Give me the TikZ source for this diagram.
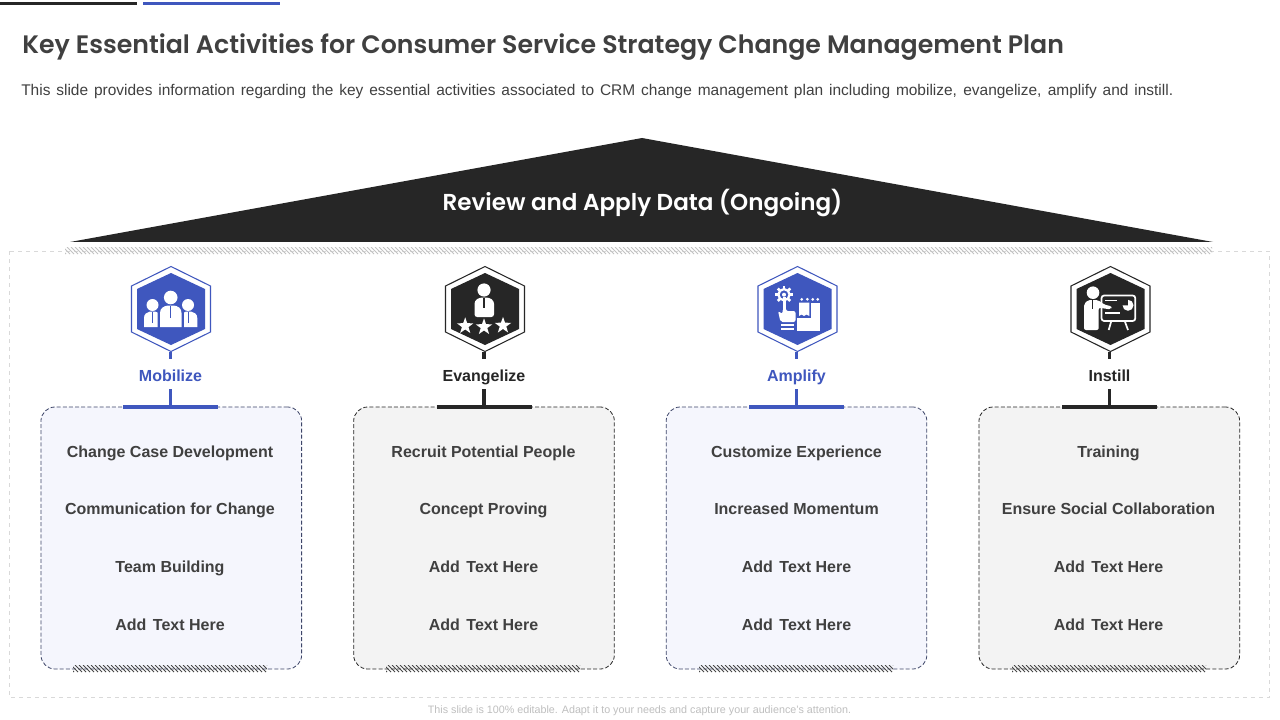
\documentclass[tikz,border=0pt]{standalone}
\usepackage{fontspec}
\setmainfont{Liberation Sans}
\newfontfamily\titlefont{Poppins SemiBold}
\usetikzlibrary{shapes.geometric,calc}
\definecolor{brandblue}{HTML}{3F57BE}
\definecolor{brandblack}{HTML}{262626}
\definecolor{bluecard}{HTML}{F5F6FD}
\definecolor{greycard}{HTML}{F3F3F3}
\definecolor{bodytext}{HTML}{404040}
\definecolor{slatedash}{HTML}{3E4669}
\newcommand{\hatchband}[5]{% x1,y1,x2,y2,colour
  \begin{scope}
    \clip (#1,#2) rectangle (#3,#4);
    \pgfmathsetmacro{\hstart}{#1-10}
    \pgfmathsetmacro{\hnext}{#1-6}
    \foreach \hx in {\hstart,\hnext,...,#3}
      \draw[#5,line width=0.75pt] (\hx,#2) -- (\hx+#4-#2,#4);
  \end{scope}}
\newcommand{\column}[8]{% id, connector x, hex x, colour, card fill, label, card border, card x
  \node[hexbox] (hex#1) at (#3,309) {};
  \draw[#4,line width=0.8pt,fill=white]
    ($(hex#1.center)+(0,-42.5)$) -- ++(39.5,19.5) -- ++(0,46) -- ++(-39.5,19.5) -- ++(-39.5,-19.5) -- ++(0,-46) -- cycle;
  \fill[#4]
    ($(hex#1.center)+(0,-36)$) -- ++(34,16) -- ++(0,40) -- ++(-34,16) -- ++(-34,-16) -- ++(0,-40) -- cycle;
  \node[cardbox,fill=#5,draw=#7] (card#1) at (#8,538) {};
  \node[collabel,text=#4] (label#1) at (#2,381) {#6};
  \coordinate (bar#1) at (#2,407);
  \draw[#4,line width=2.6pt] ($(bar#1)+(-47.5,0)$) -- ($(bar#1)+(47.5,0)$);
  \coordinate (hexfoot#1) at (#2,351.5);
  \draw[#4,line width=2.6pt] (hexfoot#1) -- (#2,359);
  \draw[#4,line width=2.6pt] (#2,389) -- (bar#1);
}
\newcommand{\items}[6]{%
  \node[itemtext] (item#1a) at (#2,457) {#3};
  \node[itemtext] (item#1b) at (#2,514) {#4};
  \node[itemtext] (item#1c) at (#2,572) {#5};
  \node[itemtext] (item#1d) at (#2,630) {#6};
}
\newcommand{\addtext}{Add\hspace{1.6pt}\ Text Here}
\begin{document}
\begin{tikzpicture}[x=0.75pt,y=-0.75pt,
  hexbox/.style={inner sep=0,outer sep=0,minimum width=59.25pt,minimum height=64.5pt},
  cardbox/.style={rounded corners=10.5pt,dash pattern=on 3pt off 1.6pt,line width=0.6pt,inner sep=0,minimum width=195.5pt,minimum height=196.5pt},
  collabel/.style={font=\bfseries\fontsize{12}{14}\selectfont,inner sep=0,anchor=base},
  itemtext/.style={font=\bfseries\fontsize{12}{15}\selectfont,text=bodytext,inner sep=0,anchor=base},
  starmark/.style={star,star points=5,star point ratio=2.5,fill=white,inner sep=0,minimum size=13pt}]
\useasboundingbox (0,0) rectangle (1280,720);
\fill[white] (0,0) rectangle (1280,720);
% top rules
\fill[brandblack] (0,1.8) rectangle (137,4.8);
\fill[brandblue] (143,1.8) rectangle (280,4.8);
% heading
\node[anchor=base west,inner sep=0,text=bodytext,font=\titlefont\fontsize{18.93}{22}\selectfont] (title) at (22,54)
  {Key Essential Activities for Consumer Service Strategy Change Management Plan};
\node[anchor=base west,inner sep=0,text=bodytext,font=\fontsize{11.6}{14}\selectfont] (subtitle) at (21,96)
  {\makebox[864pt][s]{This slide provides information regarding the key essential activities associated to CRM change management plan including mobilize, evangelize, amplify and instill.}};
% frame
\draw[black!15,dashed,line width=0.6pt,fill=white] (9.5,251) rectangle (1269,697.5);
\hatchband{65}{247}{1212}{254}{black!24}
% roof
\fill[brandblack] (70,242) -- (642,138) -- (1213,242) -- cycle;
\node[text=white,inner sep=0,anchor=base,font=\titlefont\fontsize{17.3}{22}\selectfont] (roof) at (642.5,210.5) {Review and Apply Data (Ongoing)};
% columns
\column{A}{170.5}{171}{brandblue}{bluecard}{Mobilize}{slatedash}{171.3}
\column{B}{484}{485}{brandblack}{greycard}{Evangelize}{brandblack}{484}
\column{C}{796.5}{797.5}{brandblue}{bluecard}{Amplify}{slatedash}{796.5}
\column{D}{1109.5}{1110.5}{brandblack}{greycard}{Instill}{brandblack}{1109.3}
\hatchband{73}{665}{267}{672}{brandblack!85}
\hatchband{386}{665}{580}{672}{brandblack!85}
\hatchband{699}{665}{893}{672}{brandblack!85}
\hatchband{1012}{665}{1206}{672}{brandblack!85}
\items{A}{170}{Change Case Development}{Communication for Change}{Team Building}{\addtext}
\items{B}{483.5}{Recruit Potential People}{Concept Proving}{\addtext}{\addtext}
\items{C}{796.5}{Customize Experience}{Increased Momentum}{\addtext}{\addtext}
\items{D}{1108.5}{Training}{Ensure Social Collaboration}{\addtext}{\addtext}
% icon: team
\fill[white] (170.7,297.5) circle (6.8) (152.5,305) circle (6) (188,305) circle (6);
\fill[white] (160,327) -- (160,313) .. controls (160,308) and (164,306) .. (168,305.5) -- (173.5,305.5) .. controls (178,306) and (181.5,308) .. (181.5,313) -- (181.5,327) -- cycle;
\fill[white] (144,327) -- (144,318) .. controls (144,314) and (147,312) .. (150,311.5) -- (155,311.5) .. controls (156,311.8) and (157,312) .. (157.5,312.5) -- (157.5,327) -- cycle;
\fill[white] (184,327) -- (184,312.5) .. controls (184.5,312) and (185,311.8) .. (186,311.5) -- (191,311.5) .. controls (194,312) and (197.3,314) .. (197.3,318) -- (197.3,327) -- cycle;
\draw[brandblue,line width=0.9pt] (170.7,306) -- (170.7,318) (152.7,312) -- (152.7,323) (188.2,312) -- (188.2,323);
% icon: person and stars
\fill[white] (484,290) circle (6.6);
\fill[white,rounded corners=2pt] (474.5,317) -- (474.5,301) -- (479.5,297.5) -- (489,297.5) -- (494,301) -- (494,317) -- cycle;
\draw[brandblack,line width=0.9pt] (484,298) -- (484,308);
\node[starmark] (starA) at (465.2,326) {};
\node[starmark] (starB) at (484,327) {};
\node[starmark] (starC) at (503,325.5) {};
% icon: hand, gear and panel
\draw[white,line width=1.7pt] (784,294.7) circle (5.6);
\foreach \ga in {0,45,...,315}
  \draw[white,line width=2pt] (784,294.7) ++(\ga:6) -- ++(\ga:2.8);
\fill[white] (784,294.7) circle (2);
\fill[white] (782.5,297) rectangle (786,314);
\fill[white,rounded corners=1.5pt] (778,311) -- (782.5,314) -- (782.5,309) -- (786,309) -- (786,311) -- (795.5,311) -- (795.5,322) -- (780.5,322) -- cycle;
\fill[white] (780.7,323.8) rectangle (794,326.3);
\fill[white] (780.7,327.8) rectangle (794,330.3);
\foreach \dx in {801.7,807.3,812.7,817.7} \fill[white] (\dx,299.3) circle (1.5);
\fill[white] (799,302.7) -- (809.3,302.7) -- (809.3,316) -- (806.5,314.5) -- (804,316) -- (801.5,314.5) -- (799,316) -- cycle;
\fill[white] (810.7,302.7) rectangle (820,331.3);
\fill[white] (796.8,317.5) rectangle (820,331.3);
% icon: presenter and board
\fill[white] (1093,292.7) circle (6.3);
\fill[white,rounded corners=1.5pt] (1084,330) -- (1084,304) -- (1088,300) -- (1098,300) -- (1104,304.5) -- (1112,306.5) -- (1111,309.5) -- (1101,308) -- (1098.7,307.5) -- (1098.7,330) -- cycle;
\draw[brandblack,line width=0.8pt] (1092.5,300) -- (1092.5,309);
\draw[white,line width=1.3pt,rounded corners=2pt] (1101.5,295.5) rectangle (1135.3,321);
\draw[white,line width=1.2pt] (1105,300.5) -- (1117.3,300.5) (1105,312.7) -- (1119.7,312.7);
\draw[white,line width=1.3pt] (1111.3,321) -- (1108.7,330) (1124.7,321) -- (1128,330);
\fill[white] (1128,305.3) -- ++(-90:5.5) arc (-90:180:5.5) -- cycle;
% footer
\node[text=black!25,inner sep=0,anchor=base,font=\fontsize{8.05}{10}\selectfont] (footer) at (639.5,713)
  {This slide is 100\% editable. Adapt it to your needs and capture your audience's attention.};
\end{tikzpicture}
\end{document}
